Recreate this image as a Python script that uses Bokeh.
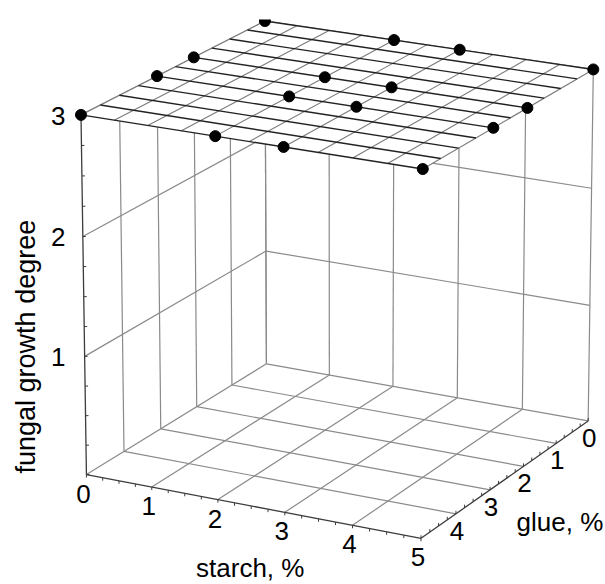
import numpy as np
from bokeh.plotting import figure
from bokeh.models import Range1d
from bokeh.embed import file_html
from bokeh.resources import INLINE
from bokeh.core.properties import value

# ---- data: 4 x 4 design (starch %, glue %) and observed fungal growth degree
starch = [0, 2, 3, 5, 0, 2, 3, 5, 0, 2, 3, 5, 0, 2, 3, 5]
glue = [0, 0, 0, 0, 2, 2, 2, 2, 3, 3, 3, 3, 5, 5, 5, 5]
growth = [3, 3, 3, 3, 3, 3, 3, 3, 3, 3, 3, 3, 3, 3, 3, 3]

starch_ticks = [0, 1, 2, 3, 4, 5]
starch_tick_labels = ["0", "1", "2", "3", "4", "5"]
glue_ticks = [0, 1, 2, 3, 4, 5]
glue_tick_labels = ["0", "1", "2", "3", "4"]      # the "5" corner is labelled by the starch axis
growth_ticks = [0, 1, 2, 3]
growth_tick_labels = ["1", "2", "3"]

STARCH_RANGE = (0.0, 5.0)
GLUE_RANGE = (0.0, 5.0)
GROWTH_RANGE = (0.0, 3.0)

# ---- perspective view of the unit cube [-1, 1]^3
AZIMUTH = np.radians(27.9)
ELEVATION = np.radians(18.55)
DISTANCE = 30.5
SCALE = 187.5
CENTER = (340.0, 271.0)

W, H = 605, 584
TOP_CLIP = 19          # plotting area starts a little below the page top
FONT = "Liberation Sans"
GRID = "#8a8a8a"
AXIS = "#3c3c3c"


def _norm(v, rng):
    return 2.0 * (np.asarray(v, float) - rng[0]) / (rng[1] - rng[0]) - 1.0


def project(s, g, z):
    X = _norm(s, STARCH_RANGE)
    Y = _norm(g, GLUE_RANGE)
    Z = _norm(z, GROWTH_RANGE)
    ca, sa = np.cos(AZIMUTH), np.sin(AZIMUTH)
    ce, se = np.cos(ELEVATION), np.sin(ELEVATION)
    right = X * ca - Y * sa
    depth_h = X * sa + Y * ca
    down = depth_h * se - Z * ce
    toward = depth_h * ce + Z * se
    k = DISTANCE / (DISTANCE - toward)
    return CENTER[0] + SCALE * k * right, CENTER[1] + SCALE * k * down


def segments(pairs):
    xs, ys = [], []
    for a, b in pairs:
        x, y = project([a[0], b[0]], [a[1], b[1]], [a[2], b[2]])
        xs.append(list(x))
        ys.append(list(y))
    return xs, ys


s0, s1 = STARCH_RANGE
g0, g1 = GLUE_RANGE
z0, z1 = GROWTH_RANGE

p = figure(width=W, height=H, output_backend="svg", toolbar_location=None,
           x_range=Range1d(0, W), y_range=Range1d(H, TOP_CLIP),
           x_axis_type=None, y_axis_type=None,
           min_border=0, min_border_top=TOP_CLIP)
p.outline_line_color = None
p.background_fill_color = "white"
p.border_fill_color = "white"

# ---- floor (growth = 0) grid
floor = [((s, g0, z0), (s, g1, z0)) for s in starch_ticks if s != s1]
floor += [((s0, g, z0), (s1, g, z0)) for g in glue_ticks if g != g1]
# ---- back wall at starch = 0
left_wall = [((s0, g, z0), (s0, g, z1)) for g in glue_ticks if g != g1]
left_wall += [((s0, g0, z), (s0, g1, z)) for z in growth_ticks if z != z0]
# ---- back wall at glue = 0
right_wall = [((s, g0, z0), (s, g0, z1)) for s in starch_ticks]
right_wall += [((s0, g0, z), (s1, g0, z)) for z in growth_ticks if z != z0]

xs, ys = segments(floor + left_wall + right_wall)
p.multi_line(xs, ys, line_color=GRID, line_width=1.2)

# ---- axis lines
axes = [((s0, g1, z0), (s1, g1, z0)),   # starch
        ((s1, g0, z0), (s1, g1, z0)),   # glue
        ((s0, g1, z0), (s0, g1, z1))]   # growth
xs, ys = segments(axes)
p.multi_line(xs, ys, line_color=AXIS, line_width=1.3)

# minor/major tick marks
minor = 0.25
tx, ty = [], []
for v in np.arange(s0, s1 + 1e-9, minor):
    x, y = project(v, g1, z0)
    tx.append([float(x), float(x)]); ty.append([float(y), float(y) + 3])
for v in np.arange(g0, g1 + 1e-9, minor):
    x, y = project(s1, v, z0)
    tx.append([float(x), float(x)]); ty.append([float(y), float(y) - 3])
for v in np.arange(z0, z1 + 1e-9, minor):
    x, y = project(s0, g1, v)
    tx.append([float(x), float(x) + 3]); ty.append([float(y), float(y)])
p.multi_line(tx, ty, line_color=AXIS, line_width=1)

# ---- response surface (flat at the observed level) with its mesh
level = float(np.mean(growth))
cx_, cy_ = project([s0, s1, s1, s0], [g0, g0, g1, g1], [level] * 4)
p.patch(list(cx_), list(cy_), fill_color="white", line_color=None)

mesh_step = 0.5
mesh_s = np.arange(s0, s1 + 1e-9, mesh_step)
mesh_g = np.arange(g0, g1 + 1e-9, mesh_step)
xs, ys = segments([((s, g0, level), (s, g1, level)) for s in mesh_s])
p.multi_line(xs, ys, line_color="#7a7a7a", line_width=1.1)
xs, ys = segments([((s0, g, level), (s1, g, level)) for g in mesh_g])
p.multi_line(xs, ys, line_color="#222222", line_width=1.4)

# ---- observations
px, py = project(starch, glue, growth)
p.scatter(list(px), list(py), size=11, fill_color="black", line_color="black")

# ---- tick labels
txt = dict(text_font=value(FONT), text_font_size="26px", text_color="black")
lx, ly = project(starch_ticks, [g1] * len(starch_ticks), [z0] * len(starch_ticks))
p.text(list(lx - 3), list(ly + 19), text=starch_tick_labels,
       text_align="center", text_baseline="middle", **txt)

gt = glue_ticks[:len(glue_tick_labels)]
lx, ly = project([s1] * len(gt), gt, [z0] * len(gt))
p.text(list(lx + 1), list(ly + 17), text=glue_tick_labels,
       text_align="center", text_baseline="middle", **txt)

zt = [t for t in growth_ticks if t != z0]
base_x, _ = project(s0, g1, z0)
_, ly = project([s0] * len(zt), [g1] * len(zt), zt)
p.text([float(base_x) - 21] * len(zt), list(ly + 1), text=growth_tick_labels,
       text_align="right", text_baseline="middle", **txt)

# ---- axis titles
mx, my = project((s0 + s1) / 2, g1, z0)
p.text([float(mx) - 1], [float(my) + 62], text=["starch, %"],
       text_align="center", text_baseline="middle", **txt)
mx, my = project(s1, (g0 + g1) / 2, z0)
p.text([float(mx) + 53], [float(my) + 44], text=["glue, %"],
       text_align="center", text_baseline="middle", **txt)
mx, my = project(s0, g1, (z0 + z1) / 2)
p.text([float(mx) - 58], [float(my) + 50], text=["fungal growth degree"],
       angle=np.pi / 2, text_align="center", text_baseline="middle",
       text_font=value(FONT), text_font_size="27px", text_color="black")

open("out.html", "w").write(file_html(p, INLINE))
